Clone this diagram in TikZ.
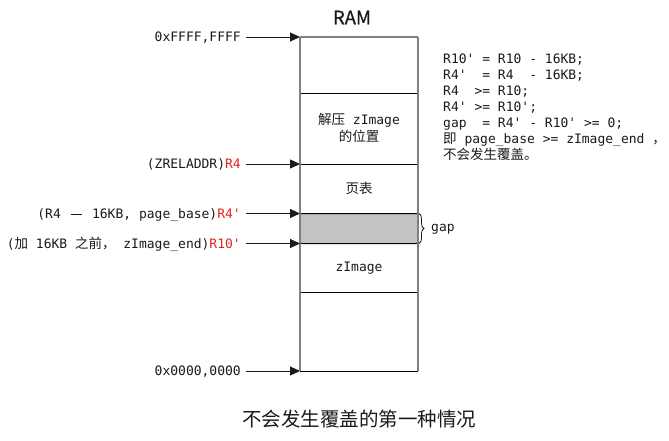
\documentclass[tikz,border=0pt]{standalone}
\usepackage{fontspec}
\setmonofont{DejaVu Sans Mono}
\newfontfamily\cjk{Noto Sans CJK SC}
\newfontfamily\cjkm[FakeBold=0.7]{Noto Sans CJK SC}
\usetikzlibrary{arrows.meta,decorations.pathreplacing}
\definecolor{redr}{HTML}{E32222}
\definecolor{gapgray}{HTML}{C3C2C5}
\definecolor{boxgray}{HTML}{808080}
\definecolor{ink}{HTML}{1A1A1A}
\newcommand\mtf{\fontsize{13}{15}\selectfont\ttfamily}
\newcommand\ck[1]{{\cjk\fontsize{13.5}{15}\selectfont #1}}
\begin{document}
\begin{tikzpicture}[x=1pt,y=-1pt,
  lab/.style={anchor=base east,inner sep=0pt,font=\mtf,text=ink},
  rtxt/.style={anchor=base west,inner sep=0pt,font=\mtf,text=ink},
  cell/.style={inner sep=0pt,font=\mtf,text=ink},
  arr/.style={draw=ink,line width=1pt,-{Triangle[length=10pt,width=9pt]}},
  sep/.style={draw=black,line width=1pt},
]
\useasboundingbox (0,0) rectangle (669,440);
% box coordinates
\coordinate (t1) at (300,37);
\coordinate (t2) at (300,164);
\coordinate (t3) at (300,213.5);
\coordinate (t4) at (300,243.5);
\coordinate (t5) at (300,371);
\coordinate (a1) at (246,37);
\coordinate (a2) at (246,164);
\coordinate (a3) at (246,213.5);
\coordinate (a4) at (246,243.5);
\coordinate (a5) at (246,371);
\coordinate (tr) at (418,37);
\coordinate (br) at (418,371);
% gap fill
\draw[fill=gapgray,draw=black,line width=1pt,rounded corners=2pt] (300,213.5) rectangle (418,243.5);
% separators
\draw[sep] (300,93) -- (418,93);
\draw[sep] (t2) -- (418,164);
\draw[sep] (300,292) -- (418,292);
\draw[sep] (t5) -- (br);
% outer box
\draw[boxgray,line width=1.3pt] (tr) -- (br);
\draw[boxgray,line width=2pt] (t1) -- (tr);
\draw[boxgray,line width=2.2pt] (t1) -- (t5);
% title
\node[inner sep=0pt,font=\cjkm\fontsize{18.5}{20}\selectfont,text=ink] (ram) at (352,17.5) {RAM};
% cell texts
\node[cell] (c1) at (359,120) {\ck{解压} zImage};
\node[cell] (c2) at (359,136.5) {\ck{的位置}};
\node[cell] (c3) at (359,188) {\ck{页表}};
\node[cell] (c4) at (359,268) {zImage};
% left labels
\node[lab] (l1) at (241,41.7) {0xFFFF,FFFF};
\node[lab] (l2) at (241,168.7) {(ZRELADDR)\textcolor{redr}{R4}};
\node[lab] (l3) at (241,218.2) {(R4 \makebox[15.6pt]{\rule[3.6pt]{11.5pt}{1.1pt}} 16KB, page\_base)\textcolor{redr}{R4'}};
\node[lab] (l4) at (241,248.2) {(\ck{加} 16KB \ck{之前，} zImage\_end)\textcolor{redr}{R10'}};
\node[lab] (l5) at (241,375.7) {0x0000,0000};
\draw[arr] (a1) -- (t1);
\draw[arr] (a2) -- (t2);
\draw[arr] (a3) -- (t3);
\draw[arr] (a4) -- (t4);
\draw[arr] (a5) -- (t5);
% brace
\coordinate (g1) at (419,213.5);
\coordinate (g2) at (419,243.5);
\draw[ink,line width=0.8pt,decorate,decoration={brace,amplitude=5pt}] (g1) -- (g2);
\node[anchor=west,inner sep=0pt,font=\mtf,text=ink] (gap) at (431,229) {gap};
% right text
\node[rtxt] (r1) at (443,63.5) {R10' = R10 - 16KB;};
\node[rtxt] (r2) at (443,79.5) {R4'~~= R4~~- 16KB;};
\node[rtxt] (r3) at (443,95.5) {R4~~>= R10;};
\node[rtxt] (r4) at (443,111.5) {R4' >= R10';};
\node[rtxt] (r5) at (443,127.5) {gap~~= R4' - R10' >= 0;};
\node[rtxt] (r6) at (443,143.5) {\ck{即} page\_base >= zImage\_end \ck{，}};
\node[rtxt] (r7) at (443,159.5) {\ck{不会发生覆盖。}};
% caption
\node[inner sep=0pt,font=\cjk\fontsize{19.5}{22}\selectfont,text=ink] (cap) at (359,419) {不会发生覆盖的第一种情况};
\end{tikzpicture}
\end{document}
